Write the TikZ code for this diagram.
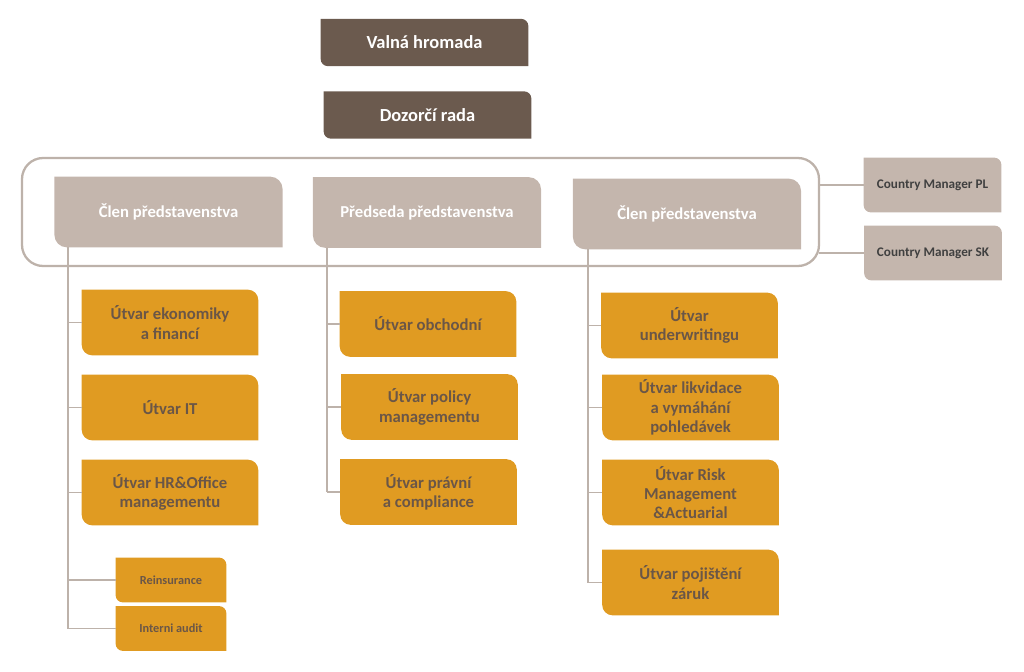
\documentclass[tikz,border=0pt]{standalone}
\usepackage{fontspec}
\setmainfont{Carlito}
\usetikzlibrary{backgrounds}
\definecolor{darkbrown}{HTML}{6B5A4E}
\definecolor{greybox}{HTML}{C4B6AD}
\definecolor{orangebox}{HTML}{E09B22}
\definecolor{browntext}{HTML}{6A5647}
\definecolor{linegrey}{HTML}{BDB2AA}

\begin{document}
\begin{tikzpicture}[x=0.02cm,y=-0.02cm,
    base box/.style={rectangle,inner sep=1pt,align=center,font=\bfseries},
    top box/.style={base box,minimum width=4.14cm,minimum height=0.93cm,text=white,font=\bfseries\fontsize{10.5}{12}\selectfont},
    board box/.style={base box,minimum width=4.55cm,minimum height=1.4cm,text=white,font=\bfseries\fontsize{9.5}{11}\selectfont},
    country box/.style={base box,minimum width=2.74cm,minimum height=1.08cm,text=black!75,font=\bfseries\fontsize{7.5}{9}\selectfont},
    dept box/.style={base box,minimum width=3.52cm,minimum height=1.3cm,text=browntext,font=\bfseries\fontsize{9.5}{11}\selectfont},
    small box/.style={base box,minimum width=2.2cm,minimum height=0.88cm,text=browntext,font=\bfseries\fontsize{7}{8.5}\selectfont},
    conn/.style={draw=linegrey,line width=0.8pt}]

\useasboundingbox (0,0) rectangle (1024,672);

% top
\node[top box] (vh) at (424.5,42.5) {Valná hromada};
\node[top box] (dr) at (427.5,115) {Dozorčí rada};

% board
\node[board box] (clen1) at (168.5,212) {Člen představenstva};
\node[board box] (pred) at (427,212.5) {Předseda představenstva};
\node[board box] (clen2) at (687,214) {Člen představenstva};
\node[country box] (pl) at (932.5,185) {Country Manager PL};
\node[country box] (sk) at (933,253) {Country Manager SK};

% departments
\node[dept box] (ekon) at (170,322.5) {Útvar ekonomiky\\a financí};
\node[dept box] (it) at (170,407.5) {Útvar IT};
\node[dept box] (hr) at (170,492.5) {Útvar HR\&Office\\managementu};
\node[small box] (reins) at (171,580) {Reinsurance};
\node[small box] (audit) at (171,628.5) {Interni audit};

\node[dept box] (obch) at (428,324) {Útvar obchodní};
\node[dept box] (policy) at (429.5,407) {Útvar policy\\managementu};
\node[dept box] (pravni) at (428.5,492) {Útvar právní\\a compliance};

\node[dept box] (uw) at (689.5,325.5) {Útvar\\underwritingu};
\node[dept box] (likv) at (690.5,407.5) {Útvar likvidace\\a vymáhání\\pohledávek};
\node[dept box] (risk) at (690.5,492.5) {Útvar Risk\\Management\\\&Actuarial};
\node[dept box] (zaruk) at (690.5,582.5) {Útvar pojištění\\záruk};

% frame round the board
\coordinate (frameplt) at (819,185);
\coordinate (framesk) at (819,253);
\draw[linegrey,line width=1.3pt,rounded corners=12pt] (22,158) rectangle (819,266);
\draw[conn] (frameplt) -- (pl.west);
\draw[conn] (framesk) -- (sk.west);

% connectors
\foreach \top/\x/\last/\list in {clen1/68/audit/{ekon,it,hr,reins,audit},
                                 pred/327/pravni/{obch,policy,pravni},
                                 clen2/588/zaruk/{uw,likv,risk,zaruk}}{
  \draw[conn] (\top.south -| \x,0) -- (\last.west -| \x,0);
  \foreach \n in \list
    \draw[conn] (\n.west -| \x,0) -- (\n.west);
}

% box shapes, rounded top right and bottom left
\begin{scope}[on background layer]
\foreach \n/\c/\r in {vh/darkbrown/4pt,dr/darkbrown/4pt,clen1/greybox/7pt,pred/greybox/7pt,clen2/greybox/7pt,
    pl/greybox/4pt,sk/greybox/4pt,ekon/orangebox/6pt,it/orangebox/6pt,hr/orangebox/6pt,
    reins/orangebox/4pt,audit/orangebox/4pt,obch/orangebox/6pt,policy/orangebox/6pt,pravni/orangebox/6pt,
    uw/orangebox/6pt,likv/orangebox/6pt,risk/orangebox/6pt,zaruk/orangebox/6pt}
  \fill[\c] (\n.north west) -- ([xshift=-\r]\n.north east) arc[start angle=90,end angle=0,radius=\r]
    -- (\n.south east) -- ([xshift=\r]\n.south west) arc[start angle=270,end angle=180,radius=\r] -- cycle;
\end{scope}

\end{tikzpicture}
\end{document}
